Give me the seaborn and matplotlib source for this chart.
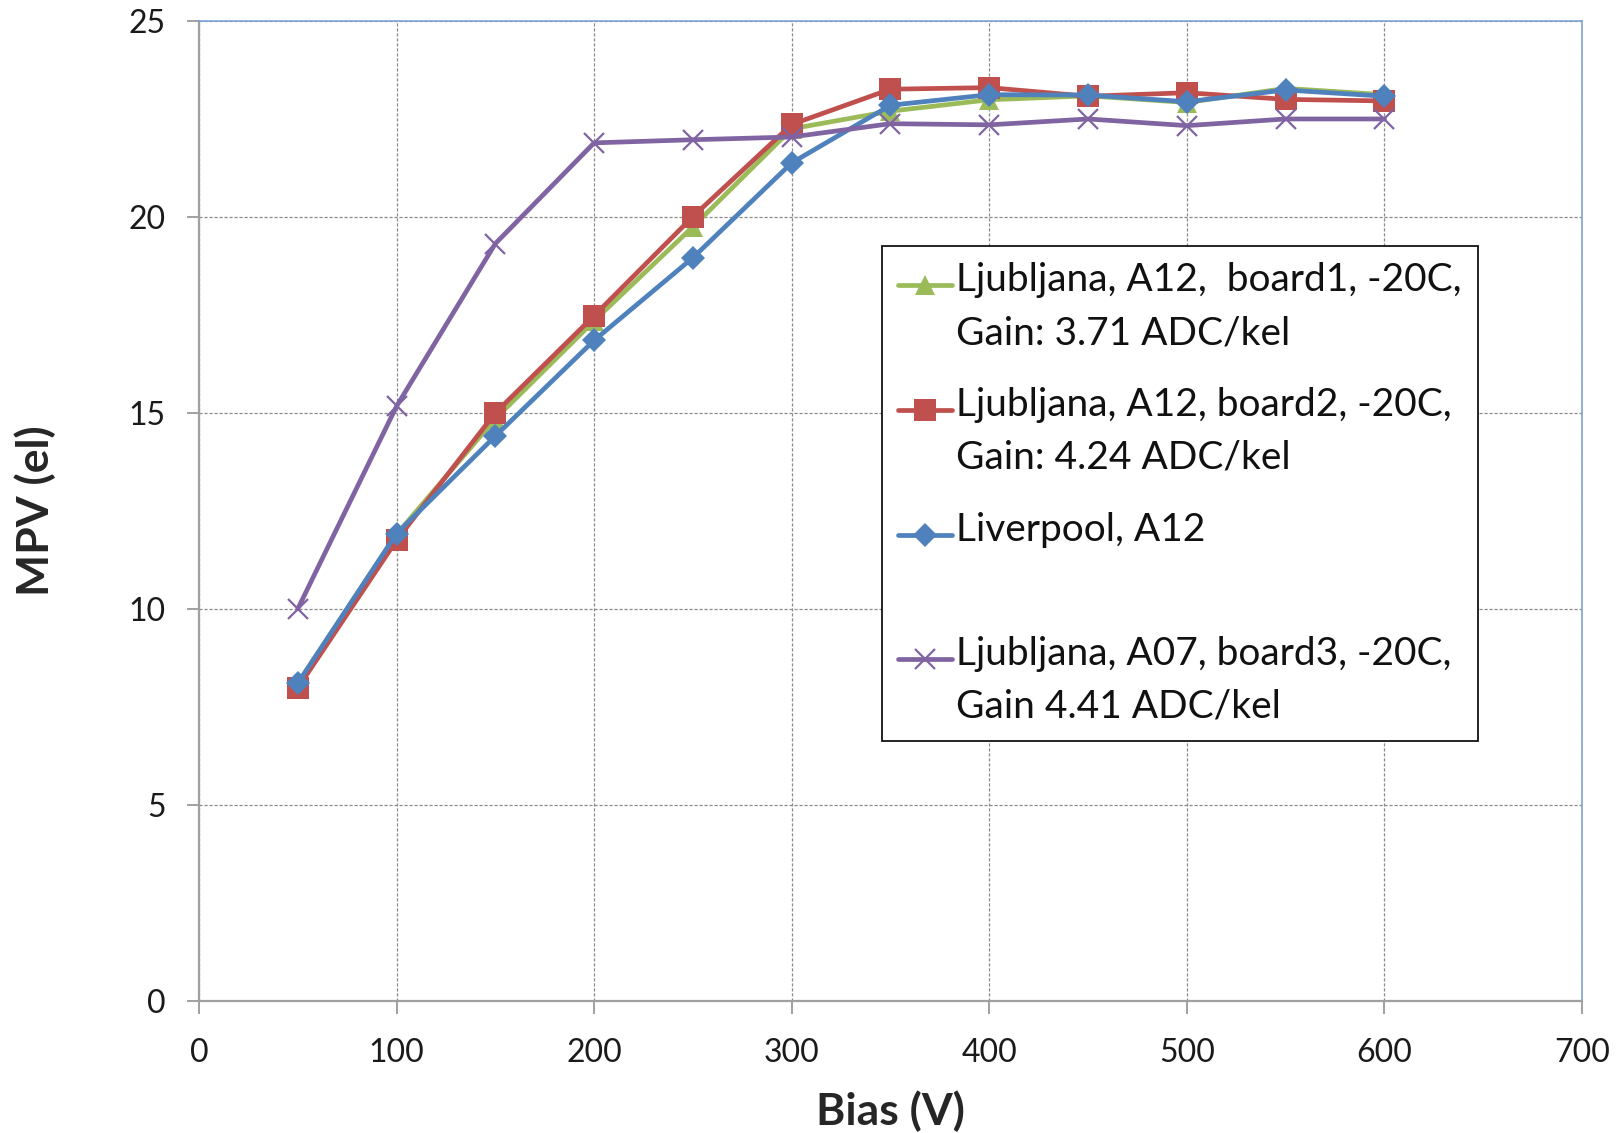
import numpy as np
import pandas as pd
import matplotlib
matplotlib.use("Agg")
import matplotlib.pyplot as plt
import seaborn as sns
from matplotlib.legend_handler import HandlerLine2D

bias = [50, 100, 150, 200, 250, 300, 350, 400, 450, 500, 550, 600]
lj_a12_b1 = [8.1, 11.9, 14.85, 17.35, 19.75, 22.25, 22.7, 22.99, 23.09, 22.92, 23.28, 23.12]
lj_a12_b2 = [7.98, 11.75, 15.0, 17.48, 20.01, 22.36, 23.26, 23.3, 23.08, 23.17, 23.0, 22.96]
liverpool = [8.1, 11.92, 14.41, 16.85, 18.96, 21.38, 22.85, 23.12, 23.11, 22.94, 23.24, 23.08]
lj_a07_b3 = [10.0, 15.17, 19.32, 21.89, 21.97, 22.04, 22.38, 22.35, 22.5, 22.33, 22.5, 22.5]

labels = [
    "Ljubljana, A12,  board1, -20C,\nGain: 3.71 ADC/kel",
    "Ljubljana, A12, board2, -20C,\nGain: 4.24 ADC/kel",
    "Liverpool, A12\n ",
    "Ljubljana, A07, board3, -20C,\nGain 4.41 ADC/kel",
]
colors = ["#9BBB59", "#C0504D", "#4F81BD", "#8064A2"]
markers = ["^", "s", "D", "x"]
msizes = [14, 15.5, 12.5, 14]
xlabel = "Bias (V)"
ylabel = "MPV (el)"

series = [lj_a12_b1, lj_a12_b2, liverpool, lj_a07_b3]
df = pd.DataFrame({
    "bias": bias * 4,
    "mpv": sum(series, []),
    "series": np.repeat(labels, len(bias)),
})

sns.set_theme(style="white")
plt.rcParams["font.family"] = ["Lato", "DejaVu Sans"]

fig = plt.figure(figsize=(16.24, 11.33), dpi=100)
ax = fig.add_axes([199 / 1624, 1 - 1000.7 / 1133, (1582 - 199) / 1624, (1000.7 - 21) / 1133])

for i in [0, 1, 2, 3]:
    sub = df[df["series"] == labels[i]]
    mk = markers[i]
    kw = dict(marker=mk, markersize=msizes[i], color=colors[i], linewidth=3.4)
    if mk == "x":
        kw.update(markeredgewidth=1.6, markeredgecolor=colors[i])
    else:
        kw.update(markeredgewidth=0, markerfacecolor=colors[i])
    sns.lineplot(data=sub, x="bias", y="mpv", ax=ax, label=labels[i], **kw)

ax.set_xlim(0, 700)
ax.set_ylim(0, 25)
ax.set_xticks(range(0, 701, 100))
ax.set_yticks(range(0, 26, 5))
ax.grid(True, color="#8a8a8a", linestyle=(0, (2.5, 1.5)), linewidth=0.9)
ax.set_axisbelow(True)

for s in ["left", "bottom"]:
    ax.spines[s].set_color("#a0a0a0")
    ax.spines[s].set_linewidth(1.6)
for s in ["top", "right"]:
    ax.spines[s].set_color("#7EA3D4")
    ax.spines[s].set_linewidth(1.2)

ax.tick_params(axis="both", which="major", direction="out", length=9, width=1.4,
               color="#a0a0a0", labelsize=23, labelcolor="#1a1a1a",
               bottom=True, left=True)
ax.tick_params(axis="x", pad=18)
ax.tick_params(axis="y", pad=15)
ax.set_xlabel(xlabel, fontsize=32, fontweight="bold", labelpad=16)
ax.set_ylabel(ylabel, fontsize=32, fontweight="bold", labelpad=52)


class ShiftedHandler(HandlerLine2D):
    def __init__(self, dy=0.0, **kw):
        super().__init__(**kw)
        self.dy = dy

    def create_artists(self, legend, orig_handle, xdescent, ydescent, width, height, fontsize, trans):
        arts = super().create_artists(legend, orig_handle, xdescent, ydescent, width, height, fontsize, trans)
        for a in arts:
            a.set_ydata(np.asarray(a.get_ydata()) + self.dy)
        return arts


handles, labs = ax.get_legend_handles_labels()
leg = ax.legend(handles, labs, loc="upper left",
                bbox_to_anchor=((882 - 199) / (1582 - 199), 1 - (246 - 21) / (1000.7 - 21)),
                fontsize=28, frameon=True, fancybox=False, framealpha=1,
                edgecolor="black", borderpad=0.42, labelspacing=0.92,
                handlelength=1.39, handletextpad=0.1, borderaxespad=0,
                handler_map={h: ShiftedHandler(dy=16) for h in handles})
leg.get_frame().set_linewidth(1.2)
for t in leg.get_texts():
    t.set_linespacing(1.58)
    t.set_color("#111111")

fig.savefig("out.png", dpi=100)
